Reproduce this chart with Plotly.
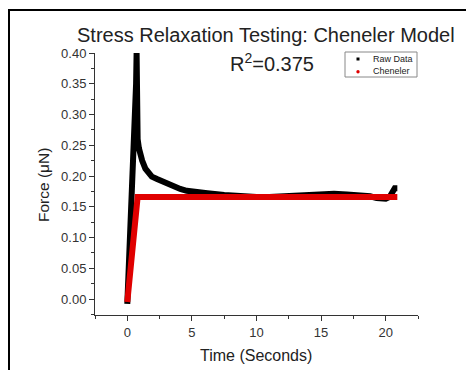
import plotly.graph_objects as go

# Raw data (Force in uN vs Time in seconds)
raw_t = [0.0, 0.15, 0.3, 0.45, 0.6, 0.68, 0.72, 0.74, 0.76, 0.8, 0.9, 1.0, 1.15, 1.4, 1.7, 1.9, 2.3, 2.8, 3.2, 3.6, 4.1, 4.6, 5.2, 6.2, 7.5, 8.5, 10.0, 11.0, 12.0, 13.0, 14.0, 15.0, 16.0, 17.0, 18.0, 18.8, 19.3, 19.6, 20.0, 20.3, 20.5, 20.7, 20.9]
raw_f = [-0.008, 0.06, 0.13, 0.2, 0.27, 0.35, 0.40, 0.40, 0.30, 0.26, 0.245, 0.235, 0.225, 0.212, 0.203, 0.199, 0.195, 0.19, 0.186, 0.183, 0.179, 0.176, 0.174, 0.172, 0.169, 0.167, 0.166, 0.166, 0.167, 0.169, 0.170, 0.171, 0.171, 0.170, 0.169, 0.167, 0.164, 0.163, 0.163, 0.166, 0.172, 0.18, 0.18]

# Cheneler model
model_t = [0.0, 0.8, 20.9]
model_f = [-0.005, 0.166, 0.166]

series_names = ["Raw Data", "Cheneler"]
series_colors = ["black", "#e00000"]

W, H = 466, 362
L, R, T, B = 87, 410, 45, 307  # plot area in figure pixels


def px(x):
    return (x - L) / (R - L)


def py(y):
    return 1 - (y - T) / (B - T)


FONT = "Liberation Sans, Arial"

fig = go.Figure()
fig.add_trace(go.Scatter(x=raw_t, y=raw_f, mode="lines", name=series_names[0],
                         line=dict(color=series_colors[0], width=6), showlegend=False))
fig.add_trace(go.Scatter(x=model_t, y=model_f, mode="lines", name=series_names[1],
                         line=dict(color=series_colors[1], width=6), showlegend=False))

axis_common = dict(showline=True, linecolor="#333", linewidth=1, ticks="outside",
                   ticklen=5, tickcolor="#333", showgrid=False, zeroline=False,
                   tickfont=dict(family=FONT, size=13, color="#333"), mirror=False)

fig.update_xaxes(range=[-2.5, 22.5], tick0=0, dtick=5,
                 minor=dict(dtick=2.5, ticks="outside", ticklen=3, tickcolor="#333"),
                 **axis_common)
fig.update_yaxes(range=[-0.026, 0.40], tick0=0, dtick=0.05, tickformat=".2f",
                 minor=dict(dtick=0.025, ticks="outside", ticklen=3, tickcolor="#333"),
                 **axis_common)

annotations = [
    dict(text="Stress Relaxation Testing: Cheneler Model", x=px(257.5), y=py(27),
         font=dict(family=FONT, size=20, color="#222")),
    dict(text="R<sup>2</sup>=0.375", x=px(263.5), y=py(54),
         font=dict(family=FONT, size=20, color="#222")),
    dict(text="Time (Seconds)", x=px(248), y=py(347),
         font=dict(family=FONT, size=16, color="#222")),
    dict(text="Force (\u03bcN)", x=px(35), y=py(177), textangle=-90,
         font=dict(family=FONT, size=15.5, color="#222")),
]
# legend texts
leg_rows = [51, 63.5]
for name, yy in zip(series_names, leg_rows):
    annotations.append(dict(text=name, x=px(363), y=py(yy), xanchor="left",
                            font=dict(family=FONT, size=9, color="#222")))
for a in annotations:
    a.setdefault("xref", "paper")
    a.setdefault("yref", "paper")
    a.setdefault("xanchor", "center")
    a.setdefault("yanchor", "middle")
    a["showarrow"] = False

shapes = [
    # outer frame (top and left)
    dict(type="line", x0=px(0), x1=px(W), y0=py(2), y1=py(2),
         line=dict(color="black", width=2)),
    dict(type="line", x0=px(1), x1=px(1), y0=py(1), y1=py(H),
         line=dict(color="black", width=2)),
    # legend box
    dict(type="rect", x0=px(337), x1=px(409), y0=py(44), y1=py(69),
         line=dict(color="#888", width=1), fillcolor="white"),
    # legend symbols
    dict(type="rect", x0=px(348.5), x1=px(351.5), y0=py(49.5), y1=py(52.5),
         line=dict(width=0), fillcolor=series_colors[0]),
    dict(type="circle", x0=px(348.3), x1=px(351.7), y0=py(62), y1=py(65.4),
         line=dict(width=0), fillcolor=series_colors[1]),
]
for s in shapes:
    s["xref"] = "paper"
    s["yref"] = "paper"

fig.update_layout(
    width=W, height=H,
    margin=dict(l=L, r=W - R, t=T, b=H - B),
    paper_bgcolor="white", plot_bgcolor="white",
    font=dict(family=FONT, color="#222"),
    showlegend=False,
    annotations=annotations,
    shapes=shapes,
)

fig.write_html("out.html")
